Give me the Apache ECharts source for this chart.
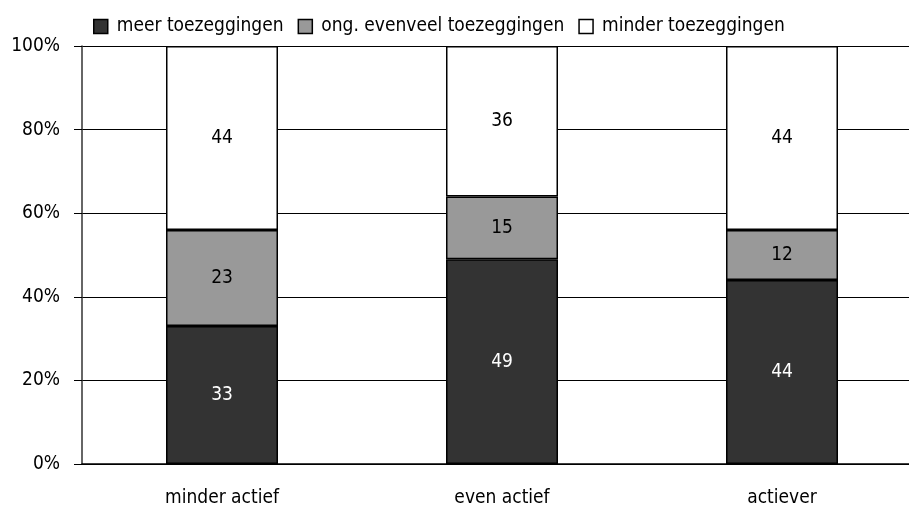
<!DOCTYPE html>
<html>
<head>
<meta charset="utf-8">
<script src="https://cdn.jsdelivr.net/npm/echarts@6/dist/echarts.min.js"></script>
<style>
    html, body { margin: 0; padding: 0; background: #fff; overflow: hidden; }
    #chart { width: 922px; height: 511px; }
</style>
</head>
<body>
<div id="chart"></div>
<script>
    var categories = ["minder actief", "even actief", "actiever"];
    var meer = [33, 49, 44];
    var evenveel = [23, 15, 12];
    var minder = [44, 36, 44];
    var yTicks = [0, 20, 40, 60, 80, 100];

    var font = "'DejaVu Sans Condensed', 'Liberation Sans Narrow', sans-serif";

    function bar(name, data, fill, labelColor) {
        return {
            name: name,
            type: "bar",
            stack: "totaal",
            barWidth: "40%",
            data: data,
            itemStyle: {
                color: fill,
                borderColor: "#000",
                borderWidth: 1.5
            },
            label: {
                show: true,
                position: "inside",
                color: labelColor,
                fontFamily: font,
                fontSize: 19
            }
        };
    }

    // the plot runs past the right edge of the 909px window, as in the original
    var myChart = echarts.init(document.getElementById("chart"));

    myChart.setOption({
        animation: false,
        textStyle: { fontFamily: font },
        legend: {
            top: 12,
            left: 88,
            icon: "rect",
            itemWidth: 14,
            itemHeight: 14,
            itemGap: 14,
            textStyle: { fontSize: 19, color: "#000", fontFamily: font, padding: [0, 0, 0, 4] },
            data: [
                { name: "meer toezeggingen", itemStyle: { borderColor: "#000", borderWidth: 1.5 } },
                { name: "ong. evenveel toezeggingen", itemStyle: { borderColor: "#000", borderWidth: 1.5 } },
                { name: "minder toezeggingen", itemStyle: { borderColor: "#000", borderWidth: 1.5 } }
            ]
        },
        grid: {
            left: 82,
            top: 46,
            right: 0,
            bottom: 47
        },
        xAxis: {
            type: "category",
            data: categories,
            axisLine: { lineStyle: { color: "#000", width: 1.5 } },
            axisTick: { show: false },
            axisLabel: { color: "#000", fontSize: 19, margin: 25, fontFamily: font }
        },
        yAxis: {
            type: "value",
            min: yTicks[0],
            max: yTicks[yTicks.length - 1],
            interval: 20,
            axisLine: { show: true, lineStyle: { color: "#333", width: 1.5 } },
            axisTick: { show: true, inside: false, length: 8, lineStyle: { color: "#000" } },
            axisLabel: { color: "#000", fontSize: 19, margin: 22, formatter: "{value}%", fontFamily: font },
            splitLine: { lineStyle: { color: "#000", width: 1 } }
        },
        series: [
            bar("meer toezeggingen", meer, "#333333", "#fff"),
            bar("ong. evenveel toezeggingen", evenveel, "#999999", "#000"),
            bar("minder toezeggingen", minder, "#ffffff", "#000")
        ]
    });
</script>
</body>
</html>
